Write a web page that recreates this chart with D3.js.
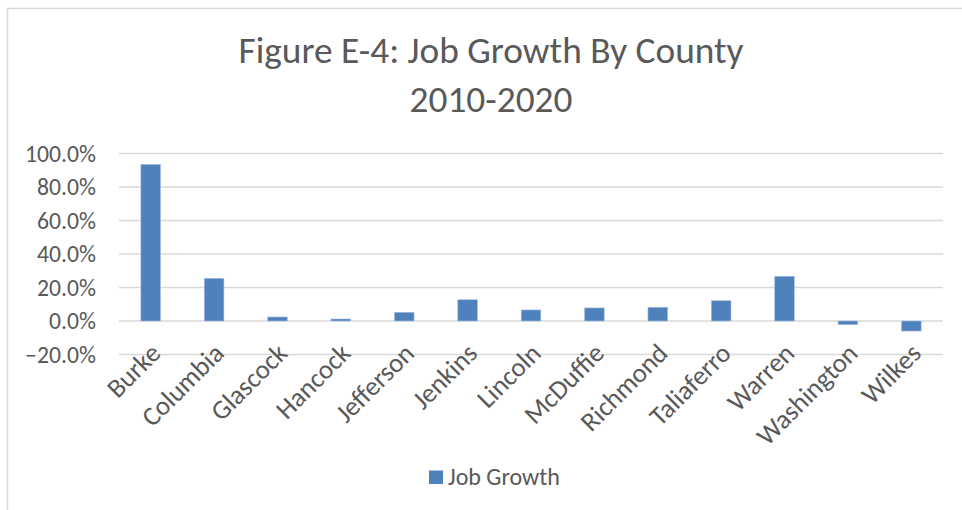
<!DOCTYPE html>
<html>
<head>
<meta charset="utf-8">
<script src="https://cdn.jsdelivr.net/npm/d3@7/dist/d3.min.js"></script>
<style>
  html, body { margin: 0; padding: 0; background: #fff; }
  svg { display: block; }
  text { font-family: Carlito, Calibri, "Open Sans", sans-serif; fill: #595959; }
</style>
</head>
<body>
<svg id="chart" width="962" height="510"></svg>
<script>
// County names along the x axis
const counties = ["Burke", "Columbia", "Glascock", "Hancock", "Jefferson", "Jenkins",
  "Lincoln", "McDuffie", "Richmond", "Taliaferro", "Warren", "Washington", "Wilkes"];
// Job growth 2010-2020, as fractions
const jobGrowth = [0.935, 0.255, 0.024, 0.012, 0.052, 0.127,
  0.066, 0.078, 0.082, 0.121, 0.267, -0.022, -0.060];
// Y axis ticks
const yTicks = [-0.2, 0, 0.2, 0.4, 0.6, 0.8, 1.0];
const titleLines = ["Figure E-4: Job Growth By County", "2010-2020"];
const seriesName = "Job Growth";

const svg = d3.select("#chart");
const W = 962, H = 510;
const plot = { left: 119, right: 943, top: 153.5, bottom: 354.5 };

// Size a text node so that its rendered width hits a target
function fitFont(sel, text, target, base) {
  sel.attr("font-size", base).text(text);
  const w = sel.node().getComputedTextLength();
  const size = w > 0 ? base * target / w : base;
  sel.attr("font-size", size);
  return size;
}

// Chart frame (top and left edges visible)
svg.append("path")
  .attr("d", `M7.5,${H} V8.5 H${W}`)
  .attr("fill", "none").attr("stroke", "#d9d9d9").attr("stroke-width", 1.5);

const x = d3.scaleBand()
  .domain(counties)
  .range([plot.left, plot.right])
  .paddingInner(0.69)
  .paddingOuter(0.345);

const y = d3.scaleLinear()
  .domain([-0.2, 1.0])
  .range([plot.bottom, plot.top]);

// Gridlines
svg.append("g").selectAll("line")
  .data(yTicks)
  .join("line")
  .attr("x1", plot.left).attr("x2", plot.right)
  .attr("y1", d => y(d)).attr("y2", d => y(d))
  .attr("stroke", "#d9d9d9").attr("stroke-width", 1.3);

// Font sizes fitted to the intended text widths
const fmt = d3.format(".1%");
const probe = svg.append("text");
const tickSize = fitFont(probe, "100.0%", 71, 18);
const labelSize = fitFont(probe, "Washington", 130, 18);
const titleSize = fitFont(probe, titleLines[0], 505, 30);
const legendSize = fitFont(probe, seriesName, 112, 20);
probe.remove();

// Y axis labels
svg.append("g").selectAll("text")
  .data(yTicks)
  .join("text")
  .attr("x", 96)
  .attr("y", d => y(d))
  .attr("dy", "0.35em")
  .attr("text-anchor", "end")
  .attr("font-size", tickSize)
  .text(d => fmt(d));

// Bars
svg.append("g").selectAll("rect")
  .data(counties.map((c, i) => ({ c, v: jobGrowth[i] })))
  .join("rect")
  .attr("x", d => x(d.c))
  .attr("width", x.bandwidth())
  .attr("y", d => y(Math.max(0, d.v)))
  .attr("height", d => Math.abs(y(d.v) - y(0)))
  .attr("fill", "#4f81bd")
  .attr("stroke", "#a9c1e0").attr("stroke-width", 0.6);

// Category labels, rotated
svg.append("g").selectAll("text")
  .data(counties)
  .join("text")
  .attr("transform", d => `translate(${x(d) + x.bandwidth() / 2},${plot.bottom - 11}) rotate(-45)`)
  .attr("text-anchor", "end")
  .attr("dy", "0.6em")
  .attr("font-size", labelSize)
  .text(d => d);

// Title
svg.append("g").selectAll("text")
  .data(titleLines)
  .join("text")
  .attr("x", 491)
  .attr("y", (d, i) => 63 + i * 49)
  .attr("text-anchor", "middle")
  .attr("font-size", titleSize)
  .text(d => d);

// Legend
const legend = svg.append("g");
legend.append("rect")
  .attr("x", 429).attr("y", 470.5).attr("width", 14).attr("height", 13.5)
  .attr("fill", "#4f81bd");
legend.append("text")
  .attr("x", 448).attr("y", 484.5)
  .attr("font-size", legendSize)
  .text(seriesName);
</script>
</body>
</html>
